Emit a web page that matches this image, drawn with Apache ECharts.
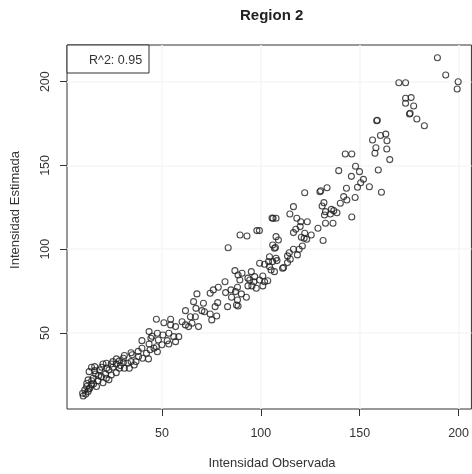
<!DOCTYPE html>
<html>
<head>
<meta charset="utf-8">
<script src="https://cdn.jsdelivr.net/npm/echarts@6/dist/echarts.min.js"></script>
<style>
  html, body { margin: 0; padding: 0; background: #fff; }
  #region-two { width: 472px; height: 474px; }
</style>
</head>
<body>
<div id="region-two"></div>
<script>
// intensidad observada (x) / estimada (y)
var observada = [
  189.3, 193.5, 199.8, 199.3, 169.8, 173.2, 173.2, 176.0, 173.2, 177.3,
  175.2, 175.5, 178.9, 182.7, 158.6, 158.9, 160.5, 163.2, 163.8, 156.5,
  158.2, 163.7, 157.7, 165.2, 142.7, 146.0, 159.4, 139.4, 147.9, 149.9,
  145.8, 151.9, 150.5, 148.9, 154.9, 143.3, 161.0, 133.5, 129.9, 130.3,
  141.9, 147.7, 143.5, 122.2, 140.2, 131.9, 131.0, 135.7, 136.9, 132.7,
  135.2, 138.5, 132.2, 146.0, 116.5, 114.7, 105.7, 106.2, 107.7, 118.2,
  123.5, 120.2, 119.9, 117.7, 116.5, 128.9, 132.7, 136.5, 122.2, 125.5,
  120.5, 121.9, 123.2, 98.0, 99.3, 89.5, 93.0, 107.7, 108.9, 131.5,
  106.0, 106.9, 107.4, 121.0, 116.5, 119.4, 114.4, 113.5, 104.4, 107.7,
  118.5, 83.5, 99.4, 101.9, 86.9, 90.5, 95.2, 93.5, 96.9, 99.4,
  101.9, 101.0, 89.4, 81.9, 78.5, 76.0, 88.2, 84.9, 82.2, 87.2,
  90.2, 92.7, 95.5, 97.7, 85.2, 88.2, 83.2, 87.7, 74.4, 67.7,
  66.0, 71.0, 78.2, 76.9, 67.2, 70.2, 71.5, 74.4, 77.7, 75.2,
  61.9, 64.4, 66.9, 60.2, 65.2, 61.9, 63.5, 68.5, 56.9, 47.2,
  51.0, 54.4, 54.4, 43.5, 47.7, 50.5, 53.5, 56.0, 58.5, 44.4,
  48.2, 52.7, 56.9, 39.9, 43.5, 46.0, 47.7, 47.2, 53.5, 39.9,
  42.2, 34.4, 38.2, 40.2, 43.2, 36.9, 30.5, 28.5, 30.5, 32.7,
  34.4, 26.9, 24.4, 21.9, 20.2, 25.2, 28.5, 31.0, 33.5, 36.0,
  23.2, 26.9, 24.4, 21.5, 18.5, 16.0, 14.4, 13.2, 16.5, 19.4,
  15.2, 12.7, 17.7, 20.2, 23.2, 14.4, 16.9, 11.9, 11.0, 9.9,
  12.7, 10.2, 13.5, 15.5, 25.2, 21.9, 103.9, 106.0, 108.2, 104.4,
  105.2, 106.9, 111.0, 111.5, 113.5, 114.9, 88.5, 94.4, 96.5, 101.0,
  103.5, 93.5, 88.5, 11.5, 13.0, 12.0, 14.5, 18.0, 16.0, 19.5,
  22.0, 27.0, 31.0, 35.0, 29.0, 38.0, 44.0, 50.0, 45.0
];
var estimada = [
  214.3, 204.0, 200.0, 195.6, 199.4, 199.4, 190.1, 190.5, 187.1, 185.5,
  180.7, 181.2, 177.7, 173.7, 176.7, 177.0, 167.9, 168.7, 164.7, 165.2,
  160.6, 159.8, 157.3, 153.5, 156.8, 156.8, 147.3, 146.9, 149.5, 146.3,
  143.5, 141.7, 139.7, 137.0, 137.3, 136.4, 134.0, 136.7, 134.3, 134.9,
  131.4, 130.9, 129.4, 133.7, 127.4, 127.8, 125.8, 123.8, 123.0, 122.4,
  121.0, 121.8, 120.4, 119.2, 125.4, 121.0, 118.6, 118.4, 118.5, 118.5,
  116.4, 116.4, 113.5, 111.9, 109.9, 112.5, 115.5, 115.5, 109.5, 108.5,
  107.1, 106.5, 105.9, 111.1, 111.1, 108.5, 107.9, 107.5, 105.5, 105.2,
  102.5, 100.6, 101.0, 101.9, 100.0, 100.0, 97.9, 96.0, 95.5, 94.6,
  96.6, 100.9, 91.6, 91.0, 87.2, 85.6, 86.6, 82.7, 83.6, 81.6,
  80.6, 78.1, 81.6, 80.6, 77.3, 75.7, 77.3, 75.7, 74.1, 74.7,
  73.3, 71.3, 78.1, 76.7, 71.3, 69.7, 65.7, 66.7, 73.7, 73.3,
  68.7, 67.7, 68.1, 65.7, 64.7, 63.3, 62.7, 61.3, 60.1, 57.8,
  63.3, 59.7, 59.7, 56.7, 55.8, 54.8, 53.8, 53.8, 53.8, 58.2,
  56.1, 58.2, 54.8, 50.8, 49.8, 48.8, 49.8, 47.8, 47.8, 46.8,
  45.8, 45.4, 44.8, 45.4, 43.4, 40.9, 38.8, 41.8, 43.4, 40.9,
  37.9, 38.2, 35.9, 34.9, 34.5, 32.9, 34.9, 33.3, 32.3, 31.9,
  32.9, 31.5, 31.5, 31.9, 31.5, 29.5, 28.9, 28.9, 28.9, 30.9,
  27.9, 26.3, 24.9, 25.5, 27.9, 29.9, 29.5, 26.9, 25.5, 23.9,
  23.0, 22.0, 21.5, 20.3, 22.0, 19.0, 18.0, 18.0, 16.0, 14.0,
  15.0, 12.4, 17.0, 19.6, 32.9, 23.0, 92.6, 92.6, 93.2, 89.6,
  87.6, 86.6, 88.6, 89.0, 92.0, 94.0, 84.6, 81.6, 80.6, 84.0,
  81.2, 78.1, 66.1, 13.5, 16.5, 20.0, 21.5, 24.5, 27.5, 29.5,
  29.0, 34.5, 36.5, 37.0, 30.5, 39.0, 40.0, 43.0, 48.0
];
var ticksX = [50, 100, 150, 200];
var ticksY = [50, 100, 150, 200];
var titulo = 'Region 2';
var etiquetaR2 = 'R^2: 0.95';

var fuente = '"Liberation Sans", Arial, sans-serif';
var puntos = observada.map(function (v, i) { return [v, estimada[i]]; });

var myChart = echarts.init(document.getElementById('region-two'));
var option = {
  animation: false,
  grid: {
    left: 67,
    right: -4,
    top: 45,
    bottom: 65,
    show: true,
    borderColor: '#333',
    borderWidth: 1
  },
  xAxis: {
    type: 'value',
    min: 2,
    max: 206.5,
    axisLine: { show: false },
    axisTick: { show: true, length: 7, customValues: ticksX, lineStyle: { color: '#333' } },
    axisLabel: { customValues: ticksX, margin: 18, color: '#333', fontSize: 12.5, fontFamily: fuente },
    splitLine: { show: true, lineStyle: { color: '#f6f6f6', width: 1.5 } }
  },
  yAxis: {
    type: 'value',
    min: 4.6,
    max: 221.9,
    axisLine: { show: false },
    axisTick: { show: true, length: 7, customValues: ticksY, lineStyle: { color: '#333' } },
    axisLabel: { customValues: ticksY, rotate: 90, margin: 15, color: '#333', fontSize: 12.5, fontFamily: fuente },
    splitLine: { show: true, lineStyle: { color: '#f6f6f6', width: 1.5 } }
  },
  graphic: [
    {
      type: 'text', left: 272 - 32, top: 8,
      style: { text: titulo, font: 'bold 15px ' + fuente, fill: '#222' }
    },
    {
      type: 'text', x: 272, y: 463,
      style: { text: 'Intensidad Observada', font: '13px ' + fuente, fill: '#333', align: 'center', verticalAlign: 'middle' }
    },
    {
      type: 'text', x: 15, y: 210, rotation: Math.PI / 2,
      style: { text: 'Intensidad Estimada', font: '13px ' + fuente, fill: '#333', align: 'center', verticalAlign: 'middle' }
    },
    {
      type: 'rect', shape: { x: 67, y: 45, width: 82, height: 28 },
      style: { fill: '#fff', stroke: '#333', lineWidth: 1 }, z: 10
    },
    {
      type: 'text', x: 89, y: 61, z: 11,
      style: { text: etiquetaR2, font: '12.5px ' + fuente, fill: '#333', verticalAlign: 'middle' }
    }
  ],
  series: [
    {
      type: 'scatter',
      data: puntos,
      symbol: 'circle',
      symbolSize: 6,
      itemStyle: { color: 'transparent', borderColor: '#1e1e1e', borderWidth: 1.1 },
      emphasis: { disabled: true }
    }
  ]
};
myChart.setOption(option);
window.addEventListener('resize', function () { myChart.resize(); });
</script>
</body>
</html>
